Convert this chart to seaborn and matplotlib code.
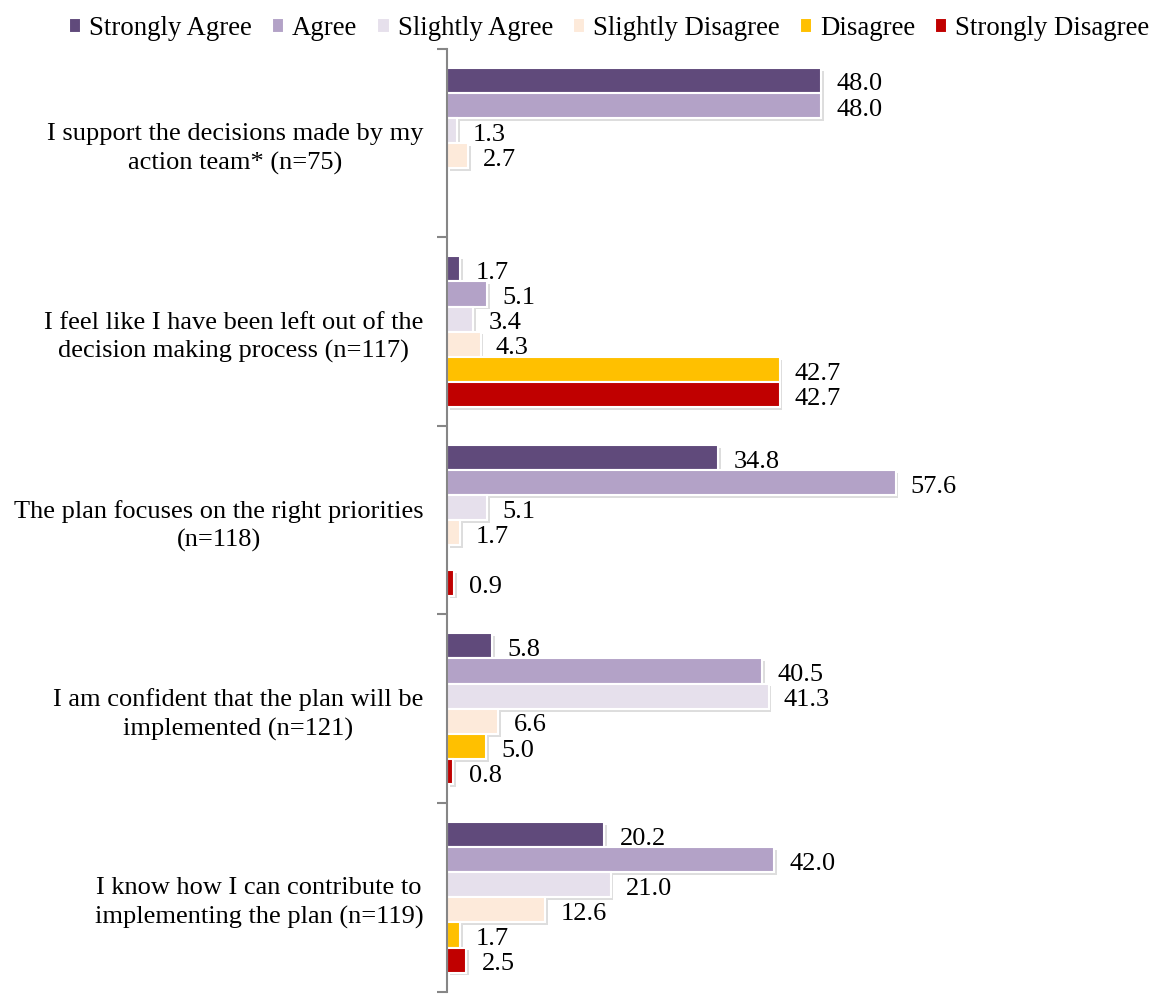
import matplotlib
matplotlib.use("Agg")
import matplotlib.pyplot as plt
import matplotlib.patheffects as pe
import seaborn as sns
import pandas as pd
import numpy as np

# data
questions = [
    "I support the decisions made by my\naction team* (n=75)",
    "I feel like I have been left out of the\ndecision making process (n=117)",
    "The plan focuses on the right priorities\n(n=118)",
    "I am confident that the plan will be\nimplemented (n=121)",
    "I know how I can contribute to\nimplementing the plan (n=119)",
]
responses = ["Strongly Agree", "Agree", "Slightly Agree",
             "Slightly Disagree", "Disagree", "Strongly Disagree"]
strongly_agree = [48.0, 1.7, 34.8, 5.8, 20.2]
agree = [48.0, 5.1, 57.6, 40.5, 42.0]
slightly_agree = [1.3, 3.4, 5.1, 41.3, 21.0]
slightly_disagree = [2.7, 4.3, 1.7, 6.6, 12.6]
disagree = [np.nan, 42.7, np.nan, 5.0, 1.7]
strongly_disagree = [np.nan, 42.7, 0.9, 0.8, 2.5]
colors = ["#604A7B", "#B3A2C7", "#E6E0EC", "#FDEADA", "#FFC000", "#C00000"]

series = [strongly_agree, agree, slightly_agree, slightly_disagree, disagree, strongly_disagree]
rows = []
for resp, vals in zip(responses, series):
    for q, v in zip(questions, vals):
        rows.append({"question": q, "response": resp, "pct": v})
df = pd.DataFrame(rows).dropna()

sns.set_style("white")
plt.rcParams["font.family"] = ["Liberation Serif", "DejaVu Serif"]
plt.rcParams["text.color"] = "black"
plt.rcParams["ytick.labelcolor"] = "black"

fig = plt.figure(figsize=(11.56, 9.94), dpi=100)
ax = fig.add_axes([0.3867, 0.0025, 0.4715, 0.9483])

sns.barplot(data=df, y="question", x="pct", hue="response", order=questions,
            hue_order=responses, palette=colors, saturation=1, orient="h", errorbar=None,
            width=0.8, edgecolor="white", linewidth=1.5, ax=ax)

shadow = [pe.SimplePatchShadow(offset=(2, -2), shadow_rgbFace="#aaaaaa", alpha=0.4), pe.Normal()]
for cont in ax.containers:
    for bar in cont:
        bar.set_path_effects(shadow)
    anns = ax.bar_label(cont, fmt="%.1f", padding=11, fontsize=19, color="black")
    # labels sit a touch below the bar centre in the original
    for a in anns:
        a.xyann = (a.xyann[0], a.xyann[1] - 3)

ax.set_xlim(0, 70)
ax.set_ylim(len(questions) - 0.5, -0.5)
ax.set_xlabel("")
ax.set_ylabel("")
ax.set_xticks([])
for s in ["top", "right", "bottom"]:
    ax.spines[s].set_visible(False)
ax.spines["left"].set_color("#868686")
ax.spines["left"].set_linewidth(1.5)

ax.set_yticks(np.arange(len(questions)))
ax.set_yticklabels(questions, fontsize=19, multialignment="center", linespacing=1.35)
ax.set_yticks(np.arange(len(questions) + 1) - 0.5, minor=True)
ax.tick_params(axis="y", which="major", length=0, pad=17)
ax.tick_params(axis="y", which="minor", length=7, width=1.5, color="#868686", left=True)

handles, labels = ax.get_legend_handles_labels()
ax.legend_.remove()
fig.legend(handles, labels, loc="upper center", bbox_to_anchor=(0.527, 1.008), ncol=6,
           frameon=False, fontsize=19.3, handlelength=0.45, handleheight=0.45,
           handletextpad=0.3, columnspacing=0.75)

fig.savefig("out.png", dpi=100)
